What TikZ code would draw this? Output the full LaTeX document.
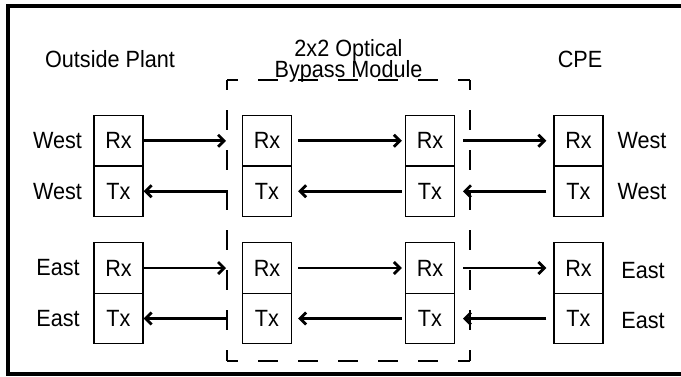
\documentclass[tikz,border=0pt]{standalone}
\usepackage{fontspec}
\setmainfont[FakeStretch=0.92]{Liberation Sans}
\usetikzlibrary{arrows.meta}
\begin{document}
\begin{tikzpicture}[x=1pt,y=-1pt,
  every node/.style={font=\fontsize{23.5}{27}\selectfont, inner sep=0pt},
  port/.style={draw, line width=1.3pt, minimum width=49pt, minimum height=50.5pt},
  sig/.style={line width=2.8pt, -{Straight Barb[length=6pt,width=12pt]}},
  dsh/.style={line width=1.5pt, dash pattern=on 20pt off 20pt}]
\useasboundingbox (0,0) rectangle (681,376);
% frame
\draw[line width=4pt] (681,6) -- (8,6) -- (8,374) -- (681,374);
% dashed module box
\draw[dsh, dash phase=9pt] (227,80) -- (470,80);
\draw[dsh, dash phase=9pt] (227,361) -- (470,361);
\draw[dsh, dash phase=10pt] (227,80) -- (227,361);
\draw[dsh, dash phase=10pt] (470,80) -- (470,361);
% titles
\node[anchor=base] (t1) at (348.5,56) {2x2 Optical};
\node[anchor=base] (t2) at (348.5,77.5) {Bypass Module};
\node[anchor=base] (op) at (110,67) {Outside Plant};
\node[anchor=base] (cpe) at (580,67) {CPE};
% ports, west
\node[port] (opr1) at (118.5,140.75) {Rx};
\node[port] (opt1) at (118.5,191.25) {Tx};
\node[port] (mlr1) at (267,140.75) {Rx};
\node[port] (mlt1) at (267,191.25) {Tx};
\node[port] (mrr1) at (430,140.75) {Rx};
\node[port] (mrt1) at (430,191.25) {Tx};
\node[port] (cr1) at (578.5,140.75) {Rx};
\node[port] (ct1) at (578.5,191.25) {Tx};
% ports, east
\node[port] (opr2) at (118.5,268) {Rx};
\node[port] (opt2) at (118.5,318.5) {Tx};
\node[port] (mlr2) at (267,268) {Rx};
\node[port] (mlt2) at (267,318.5) {Tx};
\node[port] (mrr2) at (430,268) {Rx};
\node[port] (mrt2) at (430,318.5) {Tx};
\node[port] (cr2) at (578.5,268) {Rx};
\node[port] (ct2) at (578.5,318.5) {Tx};
% side labels
\node (lw1) at (57.5,140.75) {West};
\node (lw2) at (57.5,191.25) {West};
\node (le1) at (58,268) {East};
\node (le2) at (58,318.5) {East};
\node (rw1) at (642,140.75) {West};
\node (rw2) at (642,191.25) {West};
\node (re1) at (643,271) {East};
\node (re2) at (643,320.5) {East};
% free ends at the dashed box
\coordinate (dl1) at (226,140.75);
\coordinate (dl2) at (227,191.25);
\coordinate (dr1) at (463,140.75);
\coordinate (dr2) at (463,191.25);
\coordinate (dl3) at (226,268);
\coordinate (dl4) at (227,318.5);
\coordinate (dr3) at (463,268);
\coordinate (dr4) at (463,318.5);
% west signals
\draw[sig] (opr1.east) -- (dl1);
\draw[sig] ([xshift=6pt]mlr1.east) -- ([xshift=-3pt]mrr1.west);
\draw[sig] (dr1) -- ([xshift=-7pt]cr1.west);
\draw[sig] (dl2) -- (opt1.east);
\draw[sig] ([xshift=-3pt]mrt1.west) -- ([xshift=6pt]mlt1.east);
\draw[sig] ([xshift=-7pt]ct1.west) -- (dr2);
% east signals
\draw[sig] (opr2.east) -- (dl3);
\draw[sig] ([xshift=6pt]mlr2.east) -- ([xshift=-3pt]mrr2.west);
\draw[sig] (dr3) -- ([xshift=-7pt]cr2.west);
\draw[sig] (dl4) -- (opt2.east);
\draw[sig] ([xshift=-3pt]mrt2.west) -- ([xshift=6pt]mlt2.east);
\draw[sig] ([xshift=-7pt]ct2.west) -- (dr4);
\end{tikzpicture}
\end{document}
